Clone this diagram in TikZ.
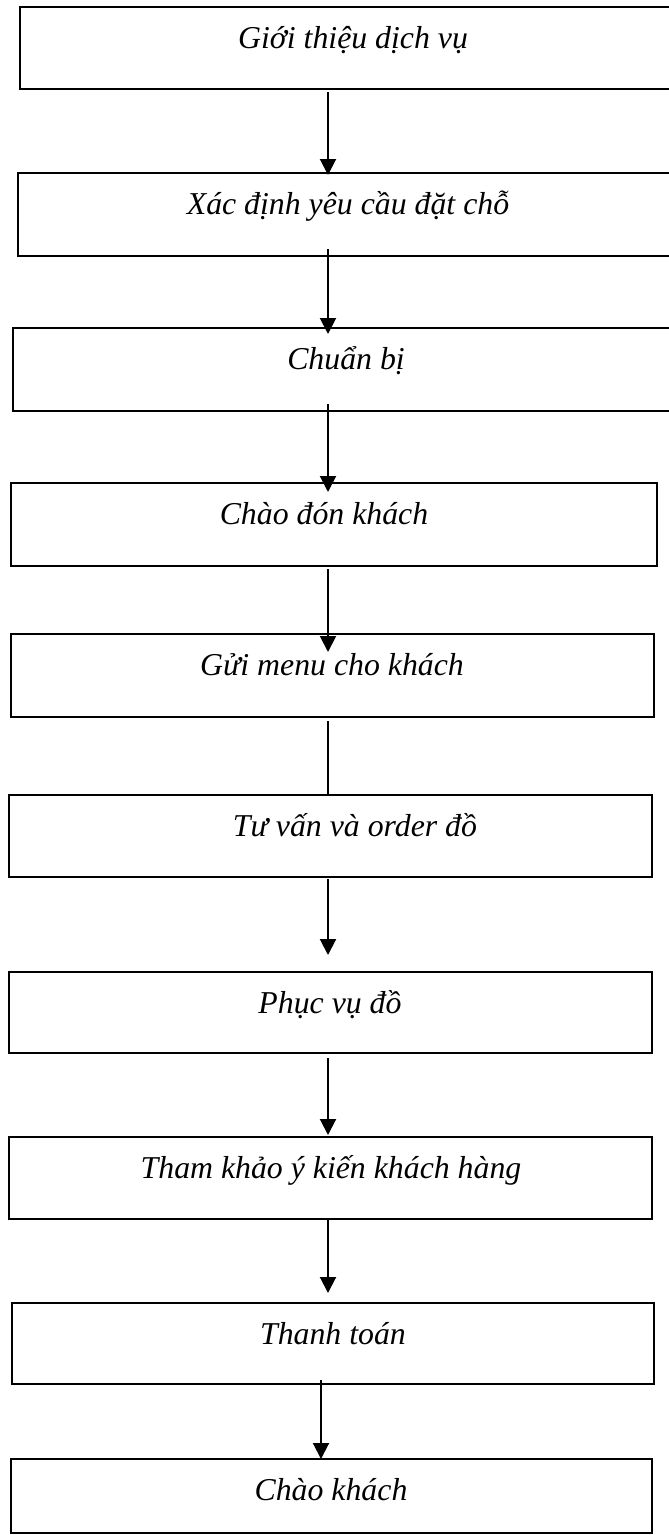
\documentclass[tikz,border=0pt]{standalone}
\usepackage{fontspec}
\setmainfont{Liberation Serif}
\usetikzlibrary{arrows.meta,calc}
\tikzset{
  box/.style={draw=black, line width=2pt, rectangle, inner sep=0pt, outer sep=0pt, anchor=north west},
  lbl/.style={anchor=base, inner sep=0pt, font=\fontsize{31.8}{36}\selectfont\itshape},
  arr/.style={line width=2pt, -{Triangle[width=16pt,length=16pt]}},
  plain/.style={line width=2pt},
}
\begin{document}
\begin{tikzpicture}[x=1pt,y=-1pt]
\useasboundingbox (0,0) rectangle (669,1535);
\fill[white] (0,0) rectangle (669,1535);
% boxes
\node[box, minimum width=666pt, minimum height=82pt] (b1) at (20,7) {};
\node[box, minimum width=662pt, minimum height=83pt] (b2) at (18,173) {};
\node[box, minimum width=667pt, minimum height=83pt] (b3) at (13,328) {};
\node[box, minimum width=646pt, minimum height=83pt] (b4) at (11,483) {};
\node[box, minimum width=643pt, minimum height=83pt] (b5) at (11,634) {};
\node[box, minimum width=643pt, minimum height=82pt] (b6) at (9,795) {};
\node[box, minimum width=643pt, minimum height=81pt] (b7) at (9,972) {};
\node[box, minimum width=643pt, minimum height=82pt] (b8) at (9,1137) {};
\node[box, minimum width=642pt, minimum height=81pt] (b9) at (12,1303) {};
\node[box, minimum width=641pt, minimum height=74pt] (b10) at (11,1459) {};
% labels
\node[lbl] (t1) at (353,48) {Giới thiệu dịch vụ};
\node[lbl] (t2) at (348,214) {Xác định yêu cầu đặt chỗ};
\node[lbl] (t3) at (346,369) {Chuẩn bị};
\node[lbl] (t4) at (324,524) {Chào đón khách};
\node[lbl] (t5) at (332,675) {Gửi menu cho khách};
\node[lbl] (t6) at (355,836) {Tư vấn và order đồ};
\node[lbl] (t7) at (330,1013) {Phục vụ đồ};
\node[lbl] (t8) at (331,1178) {Tham khảo ý kiến khách hàng};
\node[lbl] (t9) at (333,1344) {Thanh toán};
\node[lbl] (t10) at (331,1500) {Chào khách};
% connector axis
\coordinate (ax) at (328,0);
\coordinate (ay) at (321,0);
\draw[arr] ($(b1.south -| ax)+(0,3)$) -- ($(b2.north -| ax)+(0,2)$);
\draw[arr] ($(b2.south -| ax)+(0,-7)$) -- ($(b3.north -| ax)+(0,6)$);
\draw[arr] ($(b3.south -| ax)+(0,-7)$) -- ($(b4.north -| ax)+(0,9)$);
\draw[arr] ($(b4.south -| ax)+(0,3)$) -- ($(b5.north -| ax)+(0,18)$);
\draw[plain] ($(b5.south -| ax)+(0,4)$) -- (b6.north -| ax);
\draw[arr] ($(b6.south -| ax)+(0,2)$) -- ($(b7.north -| ax)+(0,-17)$);
\draw[arr] ($(b7.south -| ax)+(0,5)$) -- ($(b8.north -| ax)+(0,-2)$);
\draw[arr] (b8.south -| ax) -- ($(b9.north -| ax)+(0,-10)$);
\draw[arr] ($(b9.south -| ay)+(0,-4)$) -- (b10.north -| ay);
\end{tikzpicture}
\end{document}
